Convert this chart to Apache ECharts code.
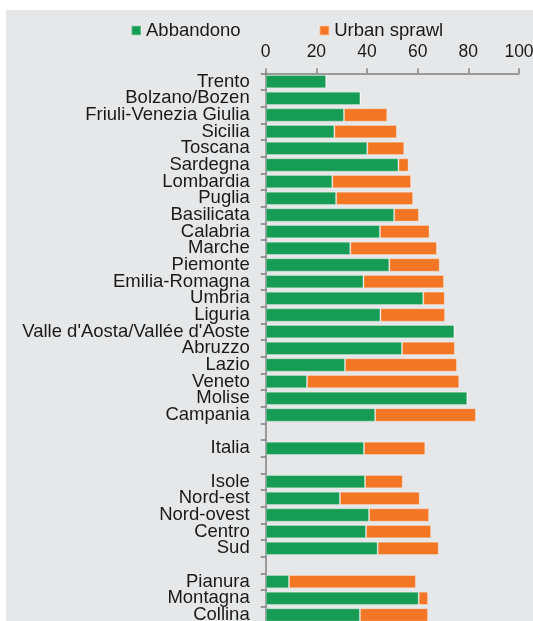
<!DOCTYPE html>
<html>
<head>
<meta charset="utf-8">
<script src="https://cdn.jsdelivr.net/npm/echarts@6/dist/echarts.min.js"></script>
<style>
html,body{margin:0;padding:0;background:#ffffff;}
#bg{position:absolute;left:6px;top:10px;width:527px;height:611px;background:#e6e7e8;}
#chart{position:absolute;left:0;top:0;width:533px;height:621px;}
</style>
</head>
<body>
<div id="bg"></div>
<div id="chart"></div>
<script>
const categories = ['Trento','Bolzano/Bozen','Friuli-Venezia Giulia','Sicilia','Toscana','Sardegna','Lombardia','Puglia','Basilicata','Calabria','Marche','Piemonte','Emilia-Romagna','Umbria','Liguria',"Valle d'Aosta/Vallée d'Aoste",'Abruzzo','Lazio','Veneto','Molise','Campania','','Italia','','Isole','Nord-est','Nord-ovest','Centro','Sud','','Pianura','Montagna','Collina'];
const abbandono = [23.9,37.4,30.9,27.1,40.1,52.4,26.3,27.8,50.7,45.1,33.4,48.8,38.6,62.2,45.3,74.5,53.8,31.3,16.3,79.6,43.2,null,38.8,null,39.2,29.3,40.8,39.6,44.2,null,9.2,60.4,37.2];
const urbanSprawl = [0,0,17.1,24.7,14.6,4.0,31.1,30.4,9.8,19.6,34.2,19.9,31.8,8.5,25.5,0,20.9,44.2,60.1,0,39.8,null,24.2,null,14.9,31.5,23.7,25.7,24.1,null,50.1,3.7,26.9];
const xTicks = {min: 0, max: 100, interval: 20};

const chart = echarts.init(document.getElementById('chart'), null, {renderer: 'canvas'});
const axisColor = '#808080';
const textColor = '#1a1a1a';
const font = 'Liberation Sans, Arial, sans-serif';
chart.setOption({
  backgroundColor: 'transparent',
  animation: false,
  legend: {
    left: 125.5, top: 16,
    itemWidth: 9.5, itemHeight: 9.5, itemGap: 78,
    icon: 'rect',
    textStyle: {fontSize: 18.5, color: textColor, fontFamily: font},
    data: ['Abbandono','Urban sprawl']
  },
  grid: {left: 265.7, top: 73.3, width: 253.3, height: 550, outerBoundsMode: 'none', containLabel: false},
  xAxis: {
    type: 'value', position: 'top',
    min: xTicks.min, max: xTicks.max, interval: xTicks.interval,
    axisLine: {show: true, lineStyle: {color: axisColor, width: 1.5}},
    axisTick: {show: true, length: 5, lineStyle: {color: axisColor, width: 1.5}},
    splitLine: {show: false},
    axisLabel: {fontSize: 17.5, color: textColor, fontFamily: font, margin: 12}
  },
  yAxis: {
    type: 'category', inverse: true, data: categories,
    axisLine: {show: true, lineStyle: {color: axisColor, width: 1.5}},
    axisTick: {show: true, length: 5, lineStyle: {color: axisColor, width: 1.5}},
    axisLabel: {fontSize: 18.5, color: textColor, fontFamily: font, margin: 16, interval: 0}
  },
  series: [
    {name: 'Abbandono', type: 'bar', stack: 't', data: abbandono, barCategoryGap: '20%',
     itemStyle: {color: '#169c54', borderColor: 'rgba(255,255,255,0.3)', borderWidth: 1}},
    {name: 'Urban sprawl', type: 'bar', stack: 't', data: urbanSprawl, barCategoryGap: '20%',
     itemStyle: {color: '#f27623', borderColor: 'rgba(255,255,255,0.3)', borderWidth: 1}}
  ]
});
</script>
</body>
</html>
